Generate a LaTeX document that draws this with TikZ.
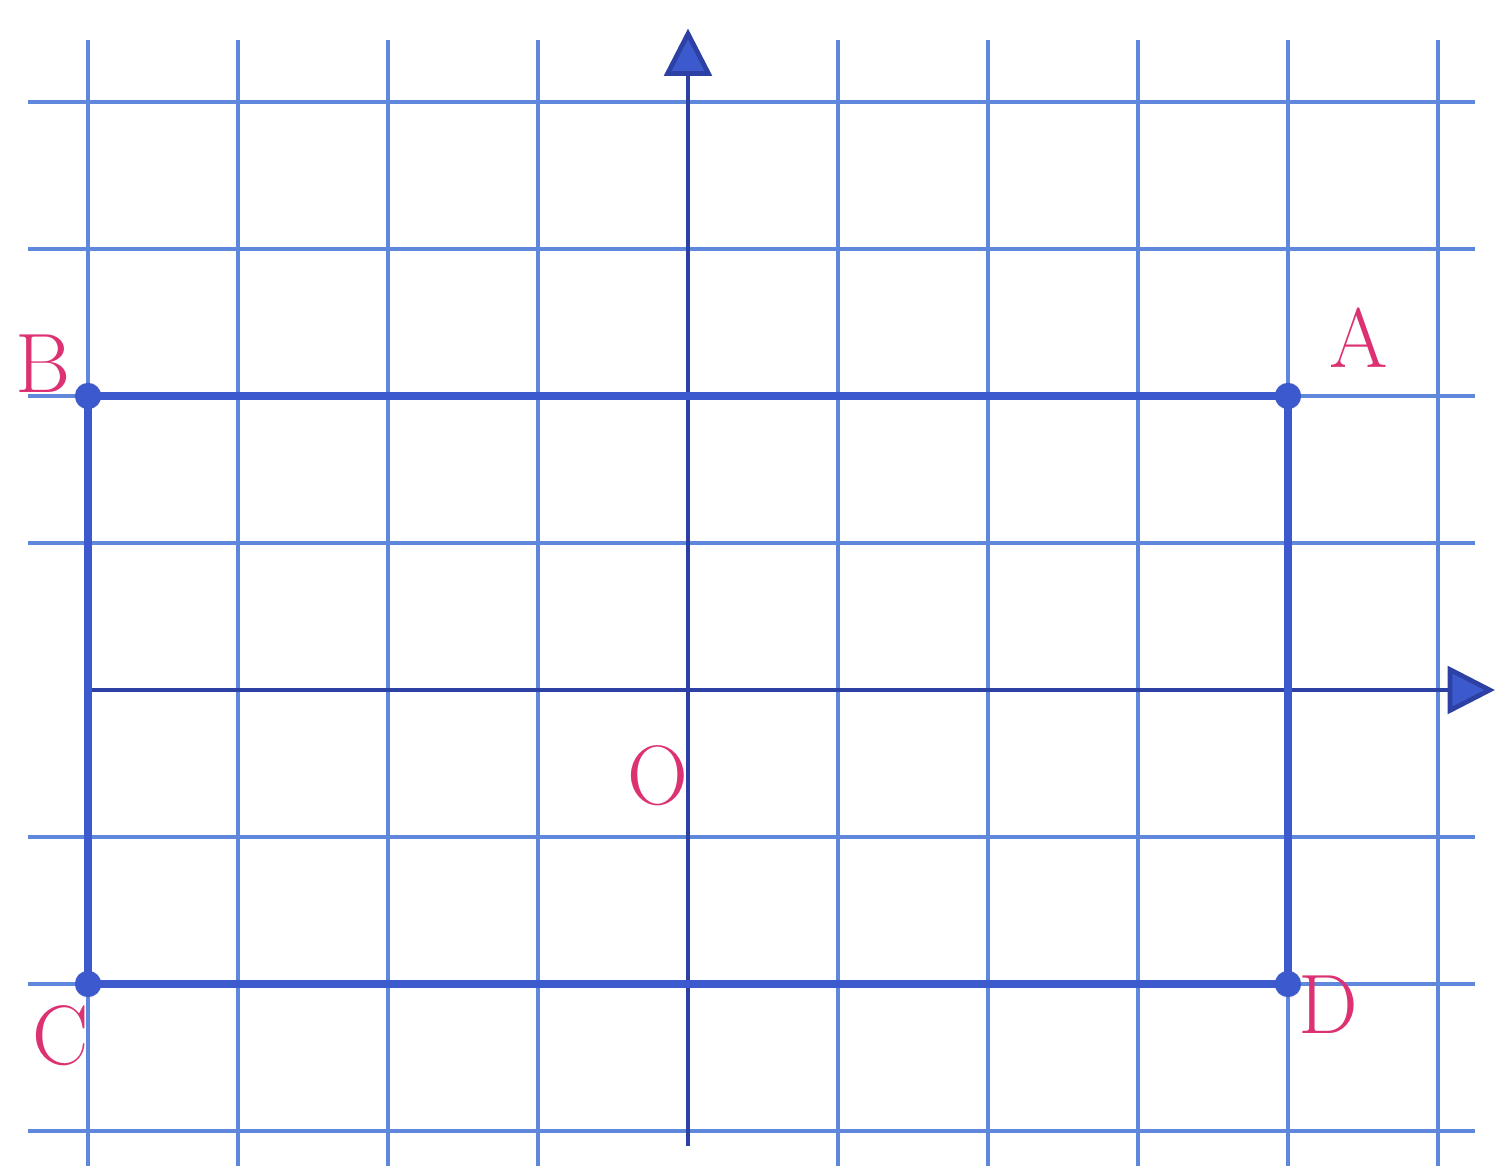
\documentclass[tikz,border=0pt]{standalone}
\usetikzlibrary{arrows.meta}
\definecolor{gridblue}{RGB}{95,135,220}
\definecolor{axisblue}{RGB}{45,65,165}
\definecolor{rectblue}{RGB}{60,90,205}
\definecolor{labelpink}{RGB}{220,50,115}
\tikzset{
  gridline/.style={gridblue,line width=0.65pt},
  axisline/.style={axisblue,line width=0.9pt,-{Triangle[width=9pt,length=9pt,fill=rectblue]}},
  ptlabel/.style={labelpink,font=\fontsize{16}{18}\selectfont},
  pt/.style={circle,fill=rectblue,inner sep=0pt,minimum size=5pt}
}
\begin{document}
\begin{tikzpicture}[x=1cm,y=0.98cm]
\useasboundingbox (-4.587,-3.238) rectangle (5.407,4.694);
% grid
\foreach \y in {-3,-2,-1,1,2,3,4}
  \draw[gridline] (-4.4,\y) -- (5.25,\y);
\foreach \x in {-4,-3,-2,-1,1,2,3,4,5}
  \draw[gridline] (\x,-3.3) -- (\x,4.42);
% axes
\coordinate (xs) at (-4,0);
\coordinate (xe) at (5.38,0);
\coordinate (ys) at (0,-3.1);
\coordinate (ye) at (0,4.5);
\draw[axisline] (xs) -- (xe);
\draw[axisline] (ys) -- (ye);
% rectangle
\node[pt] (A) at (4,2) {};
\node[pt] (B) at (-4,2) {};
\node[pt] (C) at (-4,-2) {};
\node[pt] (D) at (4,-2) {};
\draw[rectblue,line width=1.5pt] (A.center) -- (B.center) -- (C.center) -- (D.center) -- cycle;
% labels
\node[ptlabel] (la) at (4.47,2.4) {A};
\node[ptlabel] (lb) at (-4.3,2.22) {B};
\node[ptlabel] (lc) at (-4.18,-2.35) {C};
\node[ptlabel] (ld) at (4.27,-2.14) {D};
\node[ptlabel] (O) at (-0.2,-0.58) {O};
\end{tikzpicture}
\end{document}
